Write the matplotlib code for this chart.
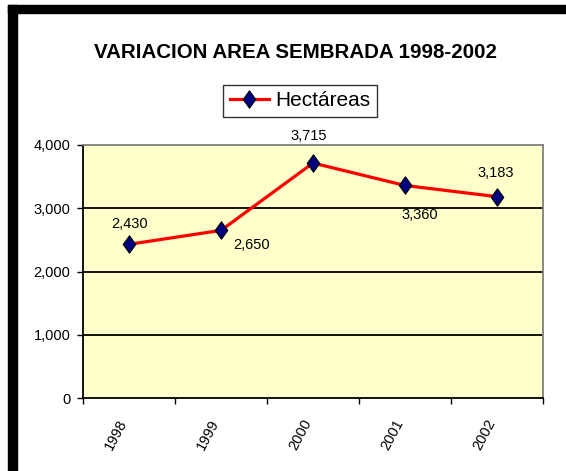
import matplotlib
matplotlib.use("Agg")
import matplotlib.pyplot as plt
from matplotlib import font_manager
from matplotlib.path import Path
from matplotlib.patches import Rectangle
from matplotlib.transforms import ScaledTranslation

# data
years = ["1998", "1999", "2000", "2001", "2002"]
hectareas = [2430, 2650, 3715, 3360, 3183]
labels = ["2,430", "2,650", "3,715", "3,360", "3,183"]
yticks = [0, 1000, 2000, 3000, 4000]
ytick_labels = ["0", "1,000", "2,000", "3,000", "4,000"]

# label offsets (pixels) relative to each point
label_offsets = [(1, 20), (31, -15), (-4, 27), (15, -30), (-1, 24)]

names = {f.name for f in font_manager.fontManager.ttflist}
fam = [f for f in ["Liberation Sans Narrow", "Liberation Sans", "DejaVu Sans"] if f in names]
plt.rcParams['font.family'] = fam

fig = plt.figure(figsize=(5.66, 4.71), dpi=100)
ax = fig.add_axes([83 / 566, 1 - 398 / 471, 460 / 566, 253 / 471])
ax.set_facecolor("#FFFFCC")

diamond = Path([(0, 1), (0.72, 0), (0, -1), (-0.72, 0), (0, 1)],
               [Path.MOVETO, Path.LINETO, Path.LINETO, Path.LINETO, Path.CLOSEPOLY])

x = list(range(len(years)))
ax.plot(x, hectareas, color="#FF0000", lw=2.3, marker=diamond, markersize=12.5,
        markerfacecolor="#000080", markeredgecolor="black", markeredgewidth=0.8,
        label="Hectáreas", zorder=3)

for xi, yi, lab, off in zip(x, hectareas, labels, label_offsets):
    ax.annotate(lab, (xi, yi), xytext=off, textcoords="offset pixels",
                ha="center", va="center", fontsize=10.5, color="black")

ax.set_xlim(-0.5, len(years) - 0.5)
ax.set_ylim(0, 4000)
ax.set_yticks(yticks)
ax.set_yticklabels(ytick_labels)
ax.set_xticks([i - 0.5 for i in range(len(years) + 1)])
ax.set_xticklabels([])
ax.set_xticks(x, minor=True)
ax.set_xticklabels(years, minor=True, rotation=62, ha="right", rotation_mode="anchor",
                   va="center")
ax.tick_params(axis="x", which="minor", length=0, pad=16, labelsize=10.5)
ax.tick_params(axis="x", which="major", length=4, width=1, direction="out", color="black")
ax.tick_params(axis="y", length=4, width=1, direction="out", color="black",
               labelsize=10.5, pad=5)
shift = ScaledTranslation(-5 / 100, 0, fig.dpi_scale_trans)
for t in ax.get_xticklabels(minor=True):
    t.set_transform(t.get_transform() + shift)

for yv in yticks[1:-1]:
    ax.axhline(yv, color="black", lw=1.3, zorder=1)

ax.spines["left"].set_color("black")
ax.spines["bottom"].set_color("black")
ax.spines["left"].set_linewidth(1.3)
ax.spines["bottom"].set_linewidth(1.3)
ax.spines["top"].set_color("#808080")
ax.spines["right"].set_color("#808080")
ax.spines["top"].set_linewidth(1.3)
ax.spines["right"].set_linewidth(1.3)

fig.text(295 / 566, 1 - 53 / 471, "VARIACION AREA SEMBRADA 1998-2002",
         ha="center", va="center", fontsize=14.8, fontweight="bold")

leg = fig.legend(loc="center", bbox_to_anchor=(300 / 566, 1 - 101 / 471),
                 fontsize=15, frameon=True, fancybox=False, borderpad=0.3,
                 handlelength=1.9, handletextpad=0.3, borderaxespad=0)
leg.get_frame().set_edgecolor("black")
leg.get_frame().set_linewidth(1.0)

# black frame on left and top edges
fig.patches.append(Rectangle((8 / 566, 0), 9 / 566, 1 - 5 / 471,
                             transform=fig.transFigure, color="black", zorder=5))
fig.patches.append(Rectangle((8 / 566, 1 - 13 / 471), 1 - 8 / 566, 8 / 471,
                             transform=fig.transFigure, color="black", zorder=5))

fig.savefig("out.png", dpi=100)
